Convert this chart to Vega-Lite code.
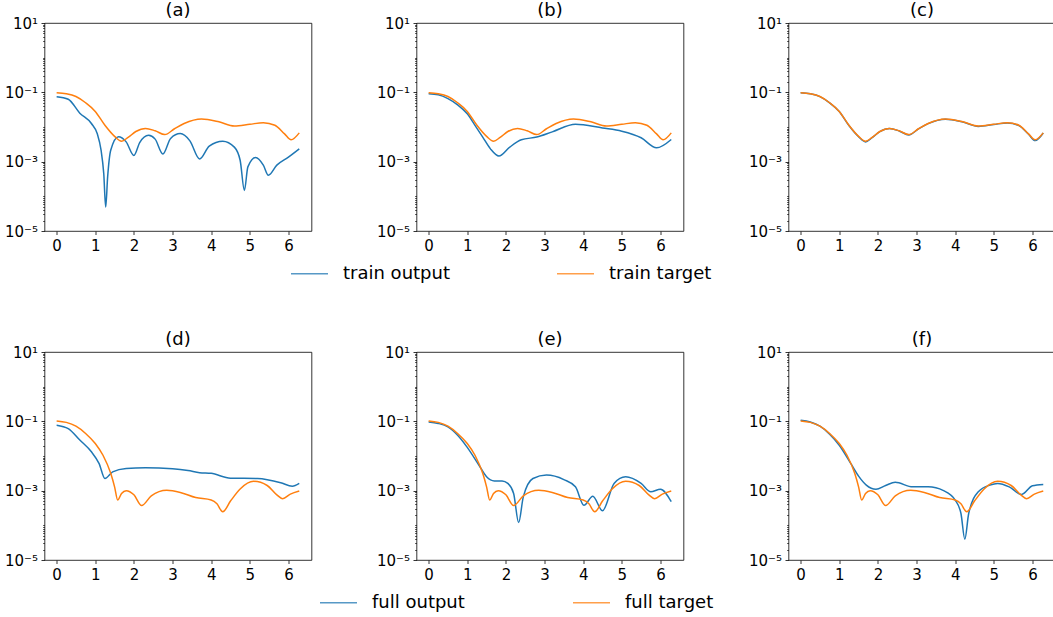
{
  "$schema": "https://vega.github.io/schema/vega-lite/v6.json",
  "background": "white",
  "padding": {"left": 3.5, "top": 1, "right": 0, "bottom": 0},
  "autosize": {"type": "pad"},
  "datasets": {
    "curves": [
      {"panel":"a","series":"train output","x":0,"y":0.075},
      {"panel":"a","series":"train output","x":0.3,"y":0.0631},
      {"panel":"a","series":"train output","x":0.6,"y":0.0251},
      {"panel":"a","series":"train output","x":0.9,"y":0.0126},
      {"panel":"a","series":"train output","x":1.05,"y":0.00646},
      {"panel":"a","series":"train output","x":1.15,"y":0.00214},
      {"panel":"a","series":"train output","x":1.22,"y":0.000447},
      {"panel":"a","series":"train output","x":1.27,"y":0.000049},
      {"panel":"a","series":"train output","x":1.32,"y":0.000363},
      {"panel":"a","series":"train output","x":1.4,"y":0.00214},
      {"panel":"a","series":"train output","x":1.6,"y":0.00525},
      {"panel":"a","series":"train output","x":1.8,"y":0.00372},
      {"panel":"a","series":"train output","x":2.0,"y":0.00151},
      {"panel":"a","series":"train output","x":2.15,"y":0.00355},
      {"panel":"a","series":"train output","x":2.38,"y":0.00575},
      {"panel":"a","series":"train output","x":2.55,"y":0.00447},
      {"panel":"a","series":"train output","x":2.75,"y":0.00166},
      {"panel":"a","series":"train output","x":2.95,"y":0.00468},
      {"panel":"a","series":"train output","x":3.2,"y":0.00646},
      {"panel":"a","series":"train output","x":3.45,"y":0.00398},
      {"panel":"a","series":"train output","x":3.7,"y":0.0012},
      {"panel":"a","series":"train output","x":3.95,"y":0.00282},
      {"panel":"a","series":"train output","x":4.3,"y":0.00389},
      {"panel":"a","series":"train output","x":4.6,"y":0.00263},
      {"panel":"a","series":"train output","x":4.75,"y":0.0011},
      {"panel":"a","series":"train output","x":4.86,"y":0.000148},
      {"panel":"a","series":"train output","x":4.95,"y":0.000708},
      {"panel":"a","series":"train output","x":5.15,"y":0.00132},
      {"panel":"a","series":"train output","x":5.35,"y":0.000794},
      {"panel":"a","series":"train output","x":5.48,"y":0.000407},
      {"panel":"a","series":"train output","x":5.7,"y":0.000794},
      {"panel":"a","series":"train output","x":6.0,"y":0.00135},
      {"panel":"a","series":"train output","x":6.28,"y":0.00234},

      {"panel":"a","series":"train target","x":0,"y":0.0977},
      {"panel":"a","series":"train target","x":0.25,"y":0.0912},
      {"panel":"a","series":"train target","x":0.5,"y":0.0759},
      {"panel":"a","series":"train target","x":0.75,"y":0.0501},
      {"panel":"a","series":"train target","x":1.0,"y":0.0282},
      {"panel":"a","series":"train target","x":1.25,"y":0.0112},
      {"panel":"a","series":"train target","x":1.5,"y":0.00537},
      {"panel":"a","series":"train target","x":1.68,"y":0.00389},
      {"panel":"a","series":"train target","x":1.85,"y":0.00501},
      {"panel":"a","series":"train target","x":2.05,"y":0.00741},
      {"panel":"a","series":"train target","x":2.3,"y":0.00912},
      {"panel":"a","series":"train target","x":2.55,"y":0.00776},
      {"panel":"a","series":"train target","x":2.8,"y":0.00603},
      {"panel":"a","series":"train target","x":3.05,"y":0.00891},
      {"panel":"a","series":"train target","x":3.3,"y":0.0126},
      {"panel":"a","series":"train target","x":3.75,"y":0.017},
      {"panel":"a","series":"train target","x":4.2,"y":0.0141},
      {"panel":"a","series":"train target","x":4.6,"y":0.0107},
      {"panel":"a","series":"train target","x":5.0,"y":0.012},
      {"panel":"a","series":"train target","x":5.35,"y":0.0133},
      {"panel":"a","series":"train target","x":5.65,"y":0.0112},
      {"panel":"a","series":"train target","x":5.9,"y":0.00631},
      {"panel":"a","series":"train target","x":6.07,"y":0.00427},
      {"panel":"a","series":"train target","x":6.28,"y":0.00676},

      {"panel":"b","series":"train output","x":0,"y":0.0912},
      {"panel":"b","series":"train output","x":0.25,"y":0.0851},
      {"panel":"b","series":"train output","x":0.5,"y":0.0661},
      {"panel":"b","series":"train output","x":0.75,"y":0.0437},
      {"panel":"b","series":"train output","x":1.0,"y":0.024},
      {"panel":"b","series":"train output","x":1.2,"y":0.0112},
      {"panel":"b","series":"train output","x":1.4,"y":0.00513},
      {"panel":"b","series":"train output","x":1.6,"y":0.00234},
      {"panel":"b","series":"train output","x":1.82,"y":0.00145},
      {"panel":"b","series":"train output","x":2.1,"y":0.00263},
      {"panel":"b","series":"train output","x":2.4,"y":0.00427},
      {"panel":"b","series":"train output","x":2.8,"y":0.00513},
      {"panel":"b","series":"train output","x":3.2,"y":0.00724},
      {"panel":"b","series":"train output","x":3.8,"y":0.012},
      {"panel":"b","series":"train output","x":4.5,"y":0.00933},
      {"panel":"b","series":"train output","x":5.0,"y":0.00759},
      {"panel":"b","series":"train output","x":5.5,"y":0.0049},
      {"panel":"b","series":"train output","x":5.9,"y":0.00251},
      {"panel":"b","series":"train output","x":6.28,"y":0.00437},

      {"panel":"b","series":"train target","x":0,"y":0.0977},
      {"panel":"b","series":"train target","x":0.25,"y":0.0912},
      {"panel":"b","series":"train target","x":0.5,"y":0.0759},
      {"panel":"b","series":"train target","x":0.75,"y":0.0501},
      {"panel":"b","series":"train target","x":1.0,"y":0.0282},
      {"panel":"b","series":"train target","x":1.25,"y":0.0112},
      {"panel":"b","series":"train target","x":1.5,"y":0.00537},
      {"panel":"b","series":"train target","x":1.68,"y":0.00389},
      {"panel":"b","series":"train target","x":1.85,"y":0.00501},
      {"panel":"b","series":"train target","x":2.05,"y":0.00741},
      {"panel":"b","series":"train target","x":2.3,"y":0.00912},
      {"panel":"b","series":"train target","x":2.55,"y":0.00776},
      {"panel":"b","series":"train target","x":2.8,"y":0.00603},
      {"panel":"b","series":"train target","x":3.05,"y":0.00891},
      {"panel":"b","series":"train target","x":3.3,"y":0.0126},
      {"panel":"b","series":"train target","x":3.75,"y":0.017},
      {"panel":"b","series":"train target","x":4.2,"y":0.0141},
      {"panel":"b","series":"train target","x":4.6,"y":0.0107},
      {"panel":"b","series":"train target","x":5.0,"y":0.012},
      {"panel":"b","series":"train target","x":5.35,"y":0.0133},
      {"panel":"b","series":"train target","x":5.65,"y":0.0112},
      {"panel":"b","series":"train target","x":5.9,"y":0.00631},
      {"panel":"b","series":"train target","x":6.07,"y":0.00427},
      {"panel":"b","series":"train target","x":6.28,"y":0.00676},

      {"panel":"c","series":"train output","x":0,"y":0.0975},
      {"panel":"c","series":"train output","x":0.25,"y":0.091},
      {"panel":"c","series":"train output","x":0.5,"y":0.0755},
      {"panel":"c","series":"train output","x":0.75,"y":0.0498},
      {"panel":"c","series":"train output","x":1.0,"y":0.028},
      {"panel":"c","series":"train output","x":1.25,"y":0.011},
      {"panel":"c","series":"train output","x":1.5,"y":0.00525},
      {"panel":"c","series":"train output","x":1.68,"y":0.00372},
      {"panel":"c","series":"train output","x":1.85,"y":0.0049},
      {"panel":"c","series":"train output","x":2.05,"y":0.00735},
      {"panel":"c","series":"train output","x":2.3,"y":0.00905},
      {"panel":"c","series":"train output","x":2.55,"y":0.0077},
      {"panel":"c","series":"train output","x":2.8,"y":0.0059},
      {"panel":"c","series":"train output","x":3.05,"y":0.0088},
      {"panel":"c","series":"train output","x":3.3,"y":0.0125},
      {"panel":"c","series":"train output","x":3.75,"y":0.0168},
      {"panel":"c","series":"train output","x":4.2,"y":0.0139},
      {"panel":"c","series":"train output","x":4.6,"y":0.0104},
      {"panel":"c","series":"train output","x":5.0,"y":0.0118},
      {"panel":"c","series":"train output","x":5.35,"y":0.0131},
      {"panel":"c","series":"train output","x":5.65,"y":0.011},
      {"panel":"c","series":"train output","x":5.9,"y":0.00615},
      {"panel":"c","series":"train output","x":6.07,"y":0.00405},
      {"panel":"c","series":"train output","x":6.28,"y":0.0067},

      {"panel":"c","series":"train target","x":0,"y":0.0977},
      {"panel":"c","series":"train target","x":0.25,"y":0.0912},
      {"panel":"c","series":"train target","x":0.5,"y":0.0759},
      {"panel":"c","series":"train target","x":0.75,"y":0.0501},
      {"panel":"c","series":"train target","x":1.0,"y":0.0282},
      {"panel":"c","series":"train target","x":1.25,"y":0.0112},
      {"panel":"c","series":"train target","x":1.5,"y":0.00537},
      {"panel":"c","series":"train target","x":1.68,"y":0.00389},
      {"panel":"c","series":"train target","x":1.85,"y":0.00501},
      {"panel":"c","series":"train target","x":2.05,"y":0.00741},
      {"panel":"c","series":"train target","x":2.3,"y":0.00912},
      {"panel":"c","series":"train target","x":2.55,"y":0.00776},
      {"panel":"c","series":"train target","x":2.8,"y":0.00603},
      {"panel":"c","series":"train target","x":3.05,"y":0.00891},
      {"panel":"c","series":"train target","x":3.3,"y":0.0126},
      {"panel":"c","series":"train target","x":3.75,"y":0.017},
      {"panel":"c","series":"train target","x":4.2,"y":0.0141},
      {"panel":"c","series":"train target","x":4.6,"y":0.0107},
      {"panel":"c","series":"train target","x":5.0,"y":0.012},
      {"panel":"c","series":"train target","x":5.35,"y":0.0133},
      {"panel":"c","series":"train target","x":5.65,"y":0.0112},
      {"panel":"c","series":"train target","x":5.9,"y":0.00631},
      {"panel":"c","series":"train target","x":6.07,"y":0.00427},
      {"panel":"c","series":"train target","x":6.28,"y":0.00676},

      {"panel":"d","series":"full output","x":0,"y":0.0776},
      {"panel":"d","series":"full output","x":0.3,"y":0.0617},
      {"panel":"d","series":"full output","x":0.6,"y":0.0288},
      {"panel":"d","series":"full output","x":0.9,"y":0.0132},
      {"panel":"d","series":"full output","x":1.1,"y":0.00603},
      {"panel":"d","series":"full output","x":1.25,"y":0.00224},
      {"panel":"d","series":"full output","x":1.45,"y":0.00347},
      {"panel":"d","series":"full output","x":1.8,"y":0.00437},
      {"panel":"d","series":"full output","x":2.3,"y":0.00457},
      {"panel":"d","series":"full output","x":3.0,"y":0.00427},
      {"panel":"d","series":"full output","x":3.4,"y":0.0038},
      {"panel":"d","series":"full output","x":3.7,"y":0.00331},
      {"panel":"d","series":"full output","x":4.0,"y":0.00316},
      {"panel":"d","series":"full output","x":4.5,"y":0.00229},
      {"panel":"d","series":"full output","x":5.2,"y":0.00224},
      {"panel":"d","series":"full output","x":5.8,"y":0.0017},
      {"panel":"d","series":"full output","x":6.1,"y":0.00135},
      {"panel":"d","series":"full output","x":6.28,"y":0.00162},

      {"panel":"d","series":"full target","x":0,"y":0.103},
      {"panel":"d","series":"full target","x":0.25,"y":0.0933},
      {"panel":"d","series":"full target","x":0.5,"y":0.0724},
      {"panel":"d","series":"full target","x":0.75,"y":0.0447},
      {"panel":"d","series":"full target","x":1.0,"y":0.0229},
      {"panel":"d","series":"full target","x":1.2,"y":0.0105},
      {"panel":"d","series":"full target","x":1.4,"y":0.00316},
      {"panel":"d","series":"full target","x":1.5,"y":0.00129},
      {"panel":"d","series":"full target","x":1.58,"y":0.000537},
      {"panel":"d","series":"full target","x":1.68,"y":0.000832},
      {"panel":"d","series":"full target","x":1.8,"y":0.001},
      {"panel":"d","series":"full target","x":2.0,"y":0.000759},
      {"panel":"d","series":"full target","x":2.2,"y":0.000372},
      {"panel":"d","series":"full target","x":2.45,"y":0.000708},
      {"panel":"d","series":"full target","x":2.85,"y":0.00102},
      {"panel":"d","series":"full target","x":3.2,"y":0.000891},
      {"panel":"d","series":"full target","x":3.6,"y":0.000631},
      {"panel":"d","series":"full target","x":4.0,"y":0.000537},
      {"panel":"d","series":"full target","x":4.15,"y":0.000417},
      {"panel":"d","series":"full target","x":4.3,"y":0.000245},
      {"panel":"d","series":"full target","x":4.5,"y":0.000501},
      {"panel":"d","series":"full target","x":4.75,"y":0.00112},
      {"panel":"d","series":"full target","x":5.1,"y":0.00186},
      {"panel":"d","series":"full target","x":5.45,"y":0.00141},
      {"panel":"d","series":"full target","x":5.7,"y":0.000759},
      {"panel":"d","series":"full target","x":5.85,"y":0.000589},
      {"panel":"d","series":"full target","x":6.05,"y":0.000794},
      {"panel":"d","series":"full target","x":6.28,"y":0.000977},

      {"panel":"e","series":"full output","x":0,"y":0.0955},
      {"panel":"e","series":"full output","x":0.25,"y":0.0871},
      {"panel":"e","series":"full output","x":0.5,"y":0.0692},
      {"panel":"e","series":"full output","x":0.75,"y":0.0398},
      {"panel":"e","series":"full output","x":1.0,"y":0.0178},
      {"panel":"e","series":"full output","x":1.3,"y":0.0055},
      {"panel":"e","series":"full output","x":1.5,"y":0.00251},
      {"panel":"e","series":"full output","x":1.7,"y":0.00191},
      {"panel":"e","series":"full output","x":1.9,"y":0.00191},
      {"panel":"e","series":"full output","x":2.05,"y":0.00162},
      {"panel":"e","series":"full output","x":2.2,"y":0.000832},
      {"panel":"e","series":"full output","x":2.33,"y":0.00012},
      {"panel":"e","series":"full output","x":2.45,"y":0.000661},
      {"panel":"e","series":"full output","x":2.7,"y":0.00224},
      {"panel":"e","series":"full output","x":3.05,"y":0.00282},
      {"panel":"e","series":"full output","x":3.5,"y":0.00209},
      {"panel":"e","series":"full output","x":3.8,"y":0.00129},
      {"panel":"e","series":"full output","x":4.02,"y":0.00038},
      {"panel":"e","series":"full output","x":4.25,"y":0.000692},
      {"panel":"e","series":"full output","x":4.5,"y":0.000263},
      {"panel":"e","series":"full output","x":4.8,"y":0.00162},
      {"panel":"e","series":"full output","x":5.1,"y":0.00251},
      {"panel":"e","series":"full output","x":5.5,"y":0.00162},
      {"panel":"e","series":"full output","x":5.75,"y":0.000933},
      {"panel":"e","series":"full output","x":6.0,"y":0.0011},
      {"panel":"e","series":"full output","x":6.28,"y":0.000479},

      {"panel":"e","series":"full target","x":0,"y":0.103},
      {"panel":"e","series":"full target","x":0.25,"y":0.0933},
      {"panel":"e","series":"full target","x":0.5,"y":0.0724},
      {"panel":"e","series":"full target","x":0.75,"y":0.0447},
      {"panel":"e","series":"full target","x":1.0,"y":0.0229},
      {"panel":"e","series":"full target","x":1.2,"y":0.0105},
      {"panel":"e","series":"full target","x":1.4,"y":0.00316},
      {"panel":"e","series":"full target","x":1.5,"y":0.00129},
      {"panel":"e","series":"full target","x":1.58,"y":0.000537},
      {"panel":"e","series":"full target","x":1.68,"y":0.000832},
      {"panel":"e","series":"full target","x":1.8,"y":0.001},
      {"panel":"e","series":"full target","x":2.0,"y":0.000759},
      {"panel":"e","series":"full target","x":2.2,"y":0.000372},
      {"panel":"e","series":"full target","x":2.45,"y":0.000708},
      {"panel":"e","series":"full target","x":2.85,"y":0.00102},
      {"panel":"e","series":"full target","x":3.2,"y":0.000891},
      {"panel":"e","series":"full target","x":3.6,"y":0.000631},
      {"panel":"e","series":"full target","x":4.0,"y":0.000537},
      {"panel":"e","series":"full target","x":4.15,"y":0.000417},
      {"panel":"e","series":"full target","x":4.3,"y":0.000245},
      {"panel":"e","series":"full target","x":4.5,"y":0.000501},
      {"panel":"e","series":"full target","x":4.75,"y":0.00112},
      {"panel":"e","series":"full target","x":5.1,"y":0.00186},
      {"panel":"e","series":"full target","x":5.45,"y":0.00141},
      {"panel":"e","series":"full target","x":5.7,"y":0.000759},
      {"panel":"e","series":"full target","x":5.85,"y":0.000589},
      {"panel":"e","series":"full target","x":6.05,"y":0.000794},
      {"panel":"e","series":"full target","x":6.28,"y":0.000977},

      {"panel":"f","series":"full output","x":0,"y":0.107},
      {"panel":"f","series":"full output","x":0.25,"y":0.0955},
      {"panel":"f","series":"full output","x":0.5,"y":0.0724},
      {"panel":"f","series":"full output","x":0.75,"y":0.0427},
      {"panel":"f","series":"full output","x":1.0,"y":0.0204},
      {"panel":"f","series":"full output","x":1.3,"y":0.00603},
      {"panel":"f","series":"full output","x":1.5,"y":0.00263},
      {"panel":"f","series":"full output","x":1.7,"y":0.00145},
      {"panel":"f","series":"full output","x":1.95,"y":0.0011},
      {"panel":"f","series":"full output","x":2.2,"y":0.00141},
      {"panel":"f","series":"full output","x":2.45,"y":0.00174},
      {"panel":"f","series":"full output","x":2.9,"y":0.00129},
      {"panel":"f","series":"full output","x":3.3,"y":0.00129},
      {"panel":"f","series":"full output","x":3.7,"y":0.001},
      {"panel":"f","series":"full output","x":4.0,"y":0.000537},
      {"panel":"f","series":"full output","x":4.15,"y":0.000219},
      {"panel":"f","series":"full output","x":4.25,"y":0.0000398},
      {"panel":"f","series":"full output","x":4.35,"y":0.000219},
      {"panel":"f","series":"full output","x":4.6,"y":0.000933},
      {"panel":"f","series":"full output","x":4.9,"y":0.00145},
      {"panel":"f","series":"full output","x":5.1,"y":0.00162},
      {"panel":"f","series":"full output","x":5.4,"y":0.00129},
      {"panel":"f","series":"full output","x":5.72,"y":0.000776},
      {"panel":"f","series":"full output","x":6.0,"y":0.00138},
      {"panel":"f","series":"full output","x":6.28,"y":0.00151},

      {"panel":"f","series":"full target","x":0,"y":0.103},
      {"panel":"f","series":"full target","x":0.25,"y":0.0933},
      {"panel":"f","series":"full target","x":0.5,"y":0.0724},
      {"panel":"f","series":"full target","x":0.75,"y":0.0447},
      {"panel":"f","series":"full target","x":1.0,"y":0.0229},
      {"panel":"f","series":"full target","x":1.2,"y":0.0105},
      {"panel":"f","series":"full target","x":1.4,"y":0.00316},
      {"panel":"f","series":"full target","x":1.5,"y":0.00129},
      {"panel":"f","series":"full target","x":1.58,"y":0.000537},
      {"panel":"f","series":"full target","x":1.68,"y":0.000832},
      {"panel":"f","series":"full target","x":1.8,"y":0.001},
      {"panel":"f","series":"full target","x":2.0,"y":0.000759},
      {"panel":"f","series":"full target","x":2.2,"y":0.000372},
      {"panel":"f","series":"full target","x":2.45,"y":0.000708},
      {"panel":"f","series":"full target","x":2.85,"y":0.00102},
      {"panel":"f","series":"full target","x":3.2,"y":0.000891},
      {"panel":"f","series":"full target","x":3.6,"y":0.000631},
      {"panel":"f","series":"full target","x":4.0,"y":0.000537},
      {"panel":"f","series":"full target","x":4.15,"y":0.000417},
      {"panel":"f","series":"full target","x":4.3,"y":0.000245},
      {"panel":"f","series":"full target","x":4.5,"y":0.000501},
      {"panel":"f","series":"full target","x":4.75,"y":0.00112},
      {"panel":"f","series":"full target","x":5.1,"y":0.00186},
      {"panel":"f","series":"full target","x":5.45,"y":0.00141},
      {"panel":"f","series":"full target","x":5.7,"y":0.000759},
      {"panel":"f","series":"full target","x":5.85,"y":0.000589},
      {"panel":"f","series":"full target","x":6.05,"y":0.000794},
      {"panel":"f","series":"full target","x":6.28,"y":0.000977}
    ]
  },
  "data": {"name": "curves"},
  "columns": 3,
  "spacing": {"row": 121, "column": 105},
  "bounds": "flush",
  "resolve": {"scale": {"color": "independent", "x": "independent", "y": "independent"}},
  "concat": [
    {
      "title": "(a)", "width": 267, "height": 208,
      "transform": [{"filter": "datum.panel === 'a'"}],
      "layer": [
        {"mark": {"type": "point", "opacity": 0},
         "encoding": {
           "x": {"field": "x", "type": "quantitative", "scale": {"domain": [-0.314, 6.597], "nice": false, "zero": false}, "axis": {"values": [0,1,2,3,4,5,6], "format": "d"}},
           "y": {"field": "y", "type": "quantitative", "scale": {"type": "log", "domain": [0.00001, 10], "nice": false}, "axis": {"orient": "left", "labels": false, "tickSize": 2, "tickWidth": 0.6, "values": [0.00002,0.00003,0.00004,0.00005,0.00006,0.00007,0.00008,0.00009,0.0001,0.0002,0.0003,0.0004,0.0005,0.0006,0.0007,0.0008,0.0009,0.002,0.003,0.004,0.005,0.006,0.007,0.008,0.009,0.01,0.02,0.03,0.04,0.05,0.06,0.07,0.08,0.09,0.2,0.3,0.4,0.5,0.6,0.7,0.8,0.9,1,2,3,4,5,6,7,8,9]}}
         }},
        {"mark": {"type": "line", "strokeWidth": 1.5, "interpolate": "monotone"},
         "encoding": {
           "x": {"field": "x", "type": "quantitative"},
           "y": {"field": "y", "type": "quantitative", "axis": {"orient": "left", "values": [10, 0.1, 0.001, 0.00001], "labelExpr": "datum.value > 5 ? '10¹' : (datum.value > 0.05 && datum.value < 0.5) ? '10⁻¹' : (datum.value > 0.0005 && datum.value < 0.005) ? '10⁻³' : (datum.value < 0.00005) ? '10⁻⁵' : ''"}},
           "color": {"field": "series", "type": "nominal", "scale": {"domain": ["train output", "train target"], "range": ["#1f77b4", "#ff7f0e"]}, "legend": null}
         }}
      ],
      "resolve": {"axis": {"y": "independent"}}
    },
    {
      "title": "(b)", "width": 267, "height": 208,
      "transform": [{"filter": "datum.panel === 'b'"}],
      "layer": [
        {"mark": {"type": "point", "opacity": 0},
         "encoding": {
           "x": {"field": "x", "type": "quantitative", "scale": {"domain": [-0.314, 6.597], "nice": false, "zero": false}, "axis": {"values": [0,1,2,3,4,5,6], "format": "d"}},
           "y": {"field": "y", "type": "quantitative", "scale": {"type": "log", "domain": [0.00001, 10], "nice": false}, "axis": {"orient": "left", "labels": false, "tickSize": 2, "tickWidth": 0.6, "values": [0.00002,0.00003,0.00004,0.00005,0.00006,0.00007,0.00008,0.00009,0.0001,0.0002,0.0003,0.0004,0.0005,0.0006,0.0007,0.0008,0.0009,0.002,0.003,0.004,0.005,0.006,0.007,0.008,0.009,0.01,0.02,0.03,0.04,0.05,0.06,0.07,0.08,0.09,0.2,0.3,0.4,0.5,0.6,0.7,0.8,0.9,1,2,3,4,5,6,7,8,9]}}
         }},
        {"mark": {"type": "line", "strokeWidth": 1.5, "interpolate": "monotone"},
         "encoding": {
           "x": {"field": "x", "type": "quantitative"},
           "y": {"field": "y", "type": "quantitative", "axis": {"orient": "left", "values": [10, 0.1, 0.001, 0.00001], "labelExpr": "datum.value > 5 ? '10¹' : (datum.value > 0.05 && datum.value < 0.5) ? '10⁻¹' : (datum.value > 0.0005 && datum.value < 0.005) ? '10⁻³' : (datum.value < 0.00005) ? '10⁻⁵' : ''"}},
           "color": {"field": "series", "type": "nominal", "scale": {"domain": ["train output", "train target"], "range": ["#1f77b4", "#ff7f0e"]},
             "legend": {"orient": "none", "legendX": -126.5, "legendY": 231, "direction": "horizontal", "columns": 2, "columnPadding": 104, "symbolType": "stroke", "symbolSize": 1369, "symbolStrokeWidth": 1.5, "symbolOpacity": 0.75, "labelFontSize": 18, "labelOffset": 14, "labelFont": "DejaVu Sans", "labelColor": "#000", "labelLimit": 400, "title": null, "padding": 0}}
         }}
      ],
      "resolve": {"axis": {"y": "independent"}}
    },
    {
      "title": "(c)", "width": 267, "height": 208,
      "transform": [{"filter": "datum.panel === 'c'"}],
      "layer": [
        {"mark": {"type": "point", "opacity": 0},
         "encoding": {
           "x": {"field": "x", "type": "quantitative", "scale": {"domain": [-0.314, 6.597], "nice": false, "zero": false}, "axis": {"values": [0,1,2,3,4,5,6], "format": "d"}},
           "y": {"field": "y", "type": "quantitative", "scale": {"type": "log", "domain": [0.00001, 10], "nice": false}, "axis": {"orient": "left", "labels": false, "tickSize": 2, "tickWidth": 0.6, "values": [0.00002,0.00003,0.00004,0.00005,0.00006,0.00007,0.00008,0.00009,0.0001,0.0002,0.0003,0.0004,0.0005,0.0006,0.0007,0.0008,0.0009,0.002,0.003,0.004,0.005,0.006,0.007,0.008,0.009,0.01,0.02,0.03,0.04,0.05,0.06,0.07,0.08,0.09,0.2,0.3,0.4,0.5,0.6,0.7,0.8,0.9,1,2,3,4,5,6,7,8,9]}}
         }},
        {"mark": {"type": "line", "strokeWidth": 1.5, "interpolate": "monotone"},
         "encoding": {
           "x": {"field": "x", "type": "quantitative"},
           "y": {"field": "y", "type": "quantitative", "axis": {"orient": "left", "values": [10, 0.1, 0.001, 0.00001], "labelExpr": "datum.value > 5 ? '10¹' : (datum.value > 0.05 && datum.value < 0.5) ? '10⁻¹' : (datum.value > 0.0005 && datum.value < 0.005) ? '10⁻³' : (datum.value < 0.00005) ? '10⁻⁵' : ''"}},
           "color": {"field": "series", "type": "nominal", "scale": {"domain": ["train output", "train target"], "range": ["#1f77b4", "#ff7f0e"]}, "legend": null}
         }}
      ],
      "resolve": {"axis": {"y": "independent"}}
    },
    {
      "title": "(d)", "width": 267, "height": 208,
      "transform": [{"filter": "datum.panel === 'd'"}],
      "layer": [
        {"mark": {"type": "point", "opacity": 0},
         "encoding": {
           "x": {"field": "x", "type": "quantitative", "scale": {"domain": [-0.314, 6.597], "nice": false, "zero": false}, "axis": {"values": [0,1,2,3,4,5,6], "format": "d"}},
           "y": {"field": "y", "type": "quantitative", "scale": {"type": "log", "domain": [0.00001, 10], "nice": false}, "axis": {"orient": "left", "labels": false, "tickSize": 2, "tickWidth": 0.6, "values": [0.00002,0.00003,0.00004,0.00005,0.00006,0.00007,0.00008,0.00009,0.0001,0.0002,0.0003,0.0004,0.0005,0.0006,0.0007,0.0008,0.0009,0.002,0.003,0.004,0.005,0.006,0.007,0.008,0.009,0.01,0.02,0.03,0.04,0.05,0.06,0.07,0.08,0.09,0.2,0.3,0.4,0.5,0.6,0.7,0.8,0.9,1,2,3,4,5,6,7,8,9]}}
         }},
        {"mark": {"type": "line", "strokeWidth": 1.5, "interpolate": "monotone"},
         "encoding": {
           "x": {"field": "x", "type": "quantitative"},
           "y": {"field": "y", "type": "quantitative", "axis": {"orient": "left", "values": [10, 0.1, 0.001, 0.00001], "labelExpr": "datum.value > 5 ? '10¹' : (datum.value > 0.05 && datum.value < 0.5) ? '10⁻¹' : (datum.value > 0.0005 && datum.value < 0.005) ? '10⁻³' : (datum.value < 0.00005) ? '10⁻⁵' : ''"}},
           "color": {"field": "series", "type": "nominal", "scale": {"domain": ["full output", "full target"], "range": ["#1f77b4", "#ff7f0e"]}, "legend": null}
         }}
      ],
      "resolve": {"axis": {"y": "independent"}}
    },
    {
      "title": "(e)", "width": 267, "height": 208,
      "transform": [{"filter": "datum.panel === 'e'"}],
      "layer": [
        {"mark": {"type": "point", "opacity": 0},
         "encoding": {
           "x": {"field": "x", "type": "quantitative", "scale": {"domain": [-0.314, 6.597], "nice": false, "zero": false}, "axis": {"values": [0,1,2,3,4,5,6], "format": "d"}},
           "y": {"field": "y", "type": "quantitative", "scale": {"type": "log", "domain": [0.00001, 10], "nice": false}, "axis": {"orient": "left", "labels": false, "tickSize": 2, "tickWidth": 0.6, "values": [0.00002,0.00003,0.00004,0.00005,0.00006,0.00007,0.00008,0.00009,0.0001,0.0002,0.0003,0.0004,0.0005,0.0006,0.0007,0.0008,0.0009,0.002,0.003,0.004,0.005,0.006,0.007,0.008,0.009,0.01,0.02,0.03,0.04,0.05,0.06,0.07,0.08,0.09,0.2,0.3,0.4,0.5,0.6,0.7,0.8,0.9,1,2,3,4,5,6,7,8,9]}}
         }},
        {"mark": {"type": "line", "strokeWidth": 1.5, "interpolate": "monotone"},
         "encoding": {
           "x": {"field": "x", "type": "quantitative"},
           "y": {"field": "y", "type": "quantitative", "axis": {"orient": "left", "values": [10, 0.1, 0.001, 0.00001], "labelExpr": "datum.value > 5 ? '10¹' : (datum.value > 0.05 && datum.value < 0.5) ? '10⁻¹' : (datum.value > 0.0005 && datum.value < 0.005) ? '10⁻³' : (datum.value < 0.00005) ? '10⁻⁵' : ''"}},
           "color": {"field": "series", "type": "nominal", "scale": {"domain": ["full output", "full target"], "range": ["#1f77b4", "#ff7f0e"]},
             "legend": {"orient": "none", "legendX": -97.5, "legendY": 231, "direction": "horizontal", "columns": 2, "columnPadding": 105, "symbolType": "stroke", "symbolSize": 1369, "symbolStrokeWidth": 1.5, "symbolOpacity": 0.75, "labelFontSize": 18, "labelOffset": 14, "labelFont": "DejaVu Sans", "labelColor": "#000", "labelLimit": 400, "title": null, "padding": 0}}
         }}
      ],
      "resolve": {"axis": {"y": "independent"}}
    },
    {
      "title": "(f)", "width": 267, "height": 208,
      "transform": [{"filter": "datum.panel === 'f'"}],
      "layer": [
        {"mark": {"type": "point", "opacity": 0},
         "encoding": {
           "x": {"field": "x", "type": "quantitative", "scale": {"domain": [-0.314, 6.597], "nice": false, "zero": false}, "axis": {"values": [0,1,2,3,4,5,6], "format": "d"}},
           "y": {"field": "y", "type": "quantitative", "scale": {"type": "log", "domain": [0.00001, 10], "nice": false}, "axis": {"orient": "left", "labels": false, "tickSize": 2, "tickWidth": 0.6, "values": [0.00002,0.00003,0.00004,0.00005,0.00006,0.00007,0.00008,0.00009,0.0001,0.0002,0.0003,0.0004,0.0005,0.0006,0.0007,0.0008,0.0009,0.002,0.003,0.004,0.005,0.006,0.007,0.008,0.009,0.01,0.02,0.03,0.04,0.05,0.06,0.07,0.08,0.09,0.2,0.3,0.4,0.5,0.6,0.7,0.8,0.9,1,2,3,4,5,6,7,8,9]}}
         }},
        {"mark": {"type": "line", "strokeWidth": 1.5, "interpolate": "monotone"},
         "encoding": {
           "x": {"field": "x", "type": "quantitative"},
           "y": {"field": "y", "type": "quantitative", "axis": {"orient": "left", "values": [10, 0.1, 0.001, 0.00001], "labelExpr": "datum.value > 5 ? '10¹' : (datum.value > 0.05 && datum.value < 0.5) ? '10⁻¹' : (datum.value > 0.0005 && datum.value < 0.005) ? '10⁻³' : (datum.value < 0.00005) ? '10⁻⁵' : ''"}},
           "color": {"field": "series", "type": "nominal", "scale": {"domain": ["full output", "full target"], "range": ["#1f77b4", "#ff7f0e"]}, "legend": null}
         }}
      ],
      "resolve": {"axis": {"y": "independent"}}
    }
  ],
  "config": {
    "font": "DejaVu Sans",
    "view": {"stroke": "#000", "strokeWidth": 0.8},
    "axis": {"labelFont": "DejaVu Sans", "labelFontSize": 15, "labelColor": "#000", "tickColor": "#000", "tickSize": 3.5, "tickWidth": 0.8, "labelPadding": 3.5, "domain": false, "grid": false, "title": null},
    "title": {"font": "DejaVu Sans", "fontSize": 18, "fontWeight": "normal", "color": "#000", "offset": -4, "frame": "group"}
  }
}
